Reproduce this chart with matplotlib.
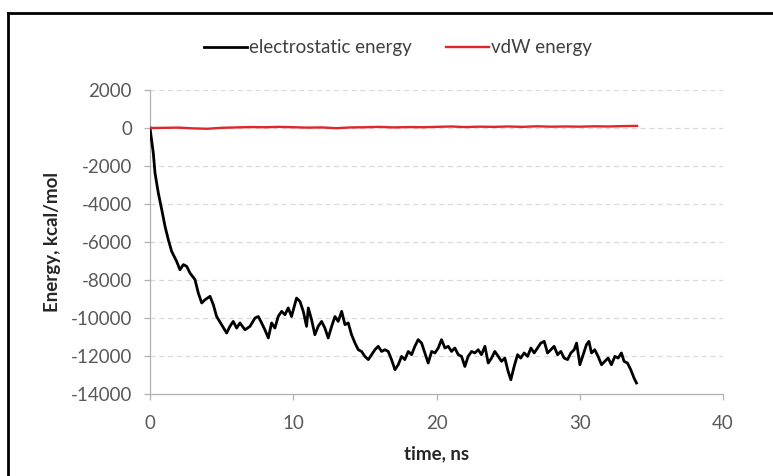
import matplotlib
matplotlib.use("Agg")
import matplotlib.pyplot as plt
from matplotlib.lines import Line2D

# electrostatic energy (kcal/mol) vs time (ns)
elec_t = [0, 0.23, 0.35, 0.58, 0.82, 1.05, 1.28, 1.51, 1.86, 2.09, 2.33, 2.56, 2.79,
          3.14, 3.37, 3.61, 3.84, 4.19, 4.42, 4.65, 5.0, 5.35, 5.58, 5.81, 6.05, 6.28,
          6.63, 6.98, 7.33, 7.56, 7.79, 8.02, 8.26, 8.49, 8.72, 8.95, 9.19, 9.42, 9.65,
          9.88, 10.23, 10.47, 10.70, 10.93, 11.05, 11.28, 11.51, 11.74, 11.98, 12.21,
          12.44, 12.68, 12.91, 13.14, 13.38, 13.61, 13.84, 14.07, 14.31, 14.54, 14.77,
          15.0, 15.24, 15.47, 15.70, 15.93, 16.17, 16.40, 16.63, 16.86, 17.10, 17.33,
          17.56, 17.79, 18.03, 18.26, 18.49, 18.72, 18.96, 19.19, 19.42, 19.66, 19.89,
          20.12, 20.35, 20.59, 20.82, 21.05, 21.28, 21.52, 21.75, 21.98, 22.21, 22.45,
          22.68, 22.91, 23.14, 23.38, 23.61, 23.84, 24.07, 24.31, 24.54, 24.77, 25.0,
          25.19, 25.42, 25.66, 25.88, 26.12, 26.36, 26.59, 26.82, 27.05, 27.28, 27.52,
          27.75, 27.98, 28.21, 28.45, 28.68, 28.91, 29.15, 29.38, 29.61, 29.78, 30.01,
          30.24, 30.47, 30.64, 30.82, 31.05, 31.28, 31.52, 31.75, 31.98, 32.21, 32.45,
          32.68, 32.91, 33.09, 33.33, 33.56, 33.79, 33.96]
elec_e = [0, -1316, -2370, -3420, -4300, -5180, -5880, -6490, -7020, -7460, -7190,
          -7280, -7630, -7980, -8680, -9210, -9040, -8860, -9300, -9920, -10350, -10790,
          -10440, -10180, -10530, -10260, -10620, -10440, -10000, -9920, -10260, -10620,
          -11050, -10260, -10530, -9920, -9650, -9830, -9470, -9920, -8950, -9130, -9650,
          -10440, -9470, -10090, -10880, -10440, -10180, -10530, -11050, -10440, -9920,
          -10180, -9650, -10350, -10260, -10880, -11320, -11670, -11760, -12020, -12190,
          -11930, -11670, -11490, -11760, -11670, -11760, -12190, -12720, -12460, -12020,
          -12190, -11760, -11930, -11490, -11140, -11320, -11840, -12370, -11760, -11840,
          -11580, -11140, -11580, -11490, -11760, -11580, -11930, -12020, -12550, -12020,
          -11760, -11840, -11670, -11930, -11490, -12370, -12110, -11760, -12020, -12280,
          -12110, -12810, -13250, -12550, -11930, -12110, -11840, -12020, -11580, -11840,
          -11580, -11320, -11230, -11840, -11670, -11490, -11930, -11760, -12110, -12190,
          -11840, -11670, -11320, -12460, -11930, -11400, -11230, -11840, -11670, -12020,
          -12460, -12280, -12110, -12460, -12020, -12110, -11840, -12280, -12370, -12720,
          -13160, -13420]

# vdW energy (kcal/mol)
vdw_t = [0, 1, 2, 3, 4, 5, 6, 7, 8, 9, 10, 11, 12, 13, 14, 15, 16, 17, 18, 19, 20,
         21, 22, 23, 24, 25, 26, 27, 28, 29, 30, 31, 32, 33, 34]
vdw_e = [0, 10, 20, -20, -40, 10, 30, 50, 40, 60, 40, 20, 30, -10, 30, 40, 60, 30, 50,
         40, 60, 80, 50, 70, 60, 80, 60, 90, 70, 80, 70, 90, 80, 100, 110]

x_ticks = [0, 10, 20, 30, 40]
y_ticks = [-14000, -12000, -10000, -8000, -6000, -4000, -2000, 0, 2000]

plt.rcParams["font.family"] = ["Lato", "DejaVu Sans"]
plt.rcParams["axes.unicode_minus"] = False
W, H = 773, 476
fig = plt.figure(figsize=(W / 100, H / 100), dpi=100)
ax = fig.add_axes([150 / W, 1 - 394 / H, (723 - 150) / W, (394 - 90) / H])

for y in y_ticks[1:]:
    ax.axhline(y, color="#d9d9d9", lw=0.9, dashes=(4, 3), zorder=1)

ax.plot(elec_t, elec_e, color="black", lw=2.0, label="electrostatic energy", zorder=3)
ax.plot(vdw_t, vdw_e, color="#e0262b", lw=1.7, label="vdW energy", zorder=4)

ax.set_xlim(0, 40)
ax.set_ylim(-14000, 2000)
ax.set_xticks(x_ticks)
ax.set_yticks(y_ticks)
for s in ["top", "right"]:
    ax.spines[s].set_visible(False)
for s in ["left", "bottom"]:
    ax.spines[s].set_color("#b0b0b0")
    ax.spines[s].set_linewidth(0.9)
ax.tick_params(axis="both", direction="out", length=4, width=0.9, color="#b0b0b0",
               labelcolor="#595959", labelsize=13.5)
ax.tick_params(axis="y", pad=9)
ax.tick_params(axis="x", pad=11)

ax.set_xlabel("time, ns", fontsize=13.5, fontweight="bold", color="#262626", labelpad=10)
ax.set_ylabel("Energy, kcal/mol", fontsize=13.5, fontweight="bold", color="#262626")
ax.yaxis.set_label_coords((61 - 150) / 573, 0.5)

fig.legend(loc="center", bbox_to_anchor=(398 / W, 1 - 48 / H), ncol=2, frameon=False,
           fontsize=13.5, handlelength=2.3, handletextpad=0.1, columnspacing=1.8,
           labelcolor="#404040")

# chart-area border (only left and top edges visible)
fig.add_artist(Line2D([8 / W, 8 / W], [0, 1 - 13 / H], transform=fig.transFigure,
                      color="black", lw=2))
fig.add_artist(Line2D([8 / W, 1], [1 - 13 / H, 1 - 13 / H], transform=fig.transFigure,
                      color="black", lw=2))

fig.savefig("out.png", dpi=100)
